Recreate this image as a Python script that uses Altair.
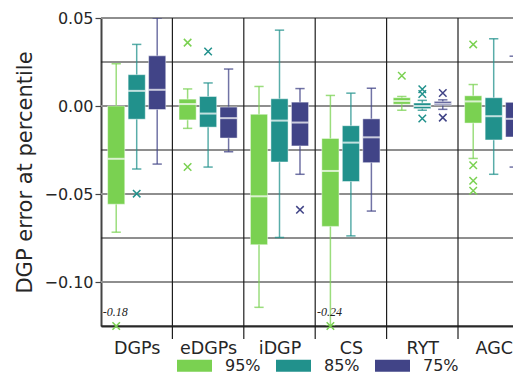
import altair as alt
import pandas as pd

categories = ["DGPs", "eDGPs", "iDGP", "CS", "RYT", "AGC"]
levels = ["95%", "85%", "75%"]
colors = ["#7ad151", "#21918c", "#414487"]

# box statistics, order: for each category -> 95%, 85%, 75%
whisk_lo = [-0.0717, -0.0358, -0.0330,
            -0.0127, -0.0347, -0.0260,
            -0.1144, -0.0747, -0.0388,
            -0.1300, -0.0738, -0.0597,
            -0.0024, -0.0024, -0.0019,
            -0.0298, -0.0388, -0.0347]
q1 = [-0.0558, -0.0075, -0.0020,
      -0.0079, -0.0120, -0.0182,
      -0.0788, -0.0318, -0.0227,
      -0.0684, -0.0429, -0.0322,
      0.0010, -0.0015, 0.0004,
      -0.0097, -0.0193, -0.0176]
median = [-0.0300, 0.0086, 0.0092,
          0.0011, -0.0043, -0.0069,
          -0.0513, -0.0083, -0.0094,
          -0.0369, -0.0208, -0.0178,
          0.0028, 0.0000, 0.0013,
          0.0026, -0.0058, -0.0073]
q3 = [0.0000, 0.0178, 0.0285,
      0.0039, 0.0054, -0.0006,
      -0.0047, 0.0041, 0.0022,
      -0.0184, -0.0112, -0.0073,
      0.0047, 0.0017, 0.0026,
      0.0058, 0.0047, 0.0021]
whisk_hi = [0.0240, 0.0350, 0.0520,
            0.0097, 0.0131, 0.0210,
            0.0111, 0.0431, 0.0099,
            0.0060, 0.0073, 0.0101,
            0.0054, 0.0032, 0.0035,
            0.0122, 0.0382, 0.0283]

# outliers: (category, level, value)
out_cat = ["DGPs", "DGPs", "eDGPs", "eDGPs", "eDGPs", "iDGP", "CS",
           "RYT", "RYT", "RYT", "RYT", "RYT", "RYT",
           "AGC", "AGC", "AGC", "AGC"]
out_lvl = ["95%", "85%", "95%", "95%", "85%", "75%", "95%",
           "95%", "85%", "85%", "85%", "75%", "75%",
           "95%", "95%", "95%", "95%"]
out_val = [-0.18, -0.0498, 0.0360, -0.0347, 0.0310, -0.0590, -0.24,
           0.0172, 0.0095, 0.0068, -0.0071, 0.0074, -0.0066,
           0.0350, -0.0337, -0.0425, -0.0482]

# annotations of off-scale outliers
ann_cat = ["DGPs", "CS"]
ann_text = ["-0.18", "-0.24"]

YMIN, YMAX = -0.125, 0.05
major_y = [0.05, 0.0, -0.05, -0.10]
minor_y = [0.025, -0.025, -0.075, -0.125]

CATW = 71.4
W, H = 412, 308
XMAX = W / CATW
OFF = 0.287
HALF = 0.12
CAP = 0.065

rows = []
for i, c in enumerate(categories):
    for j, l in enumerate(levels):
        k = i * 3 + j
        xc = i + 0.5 + (j - 1) * OFF
        rows.append(dict(cat=c, level=l, xc=xc, xl=xc - HALF, xr=xc + HALF,
                         cl=xc - CAP, cr=xc + CAP,
                         lo=whisk_lo[k], q1=q1[k], med=median[k], q3=q3[k], hi=whisk_hi[k]))
box = pd.DataFrame(rows)

orow = []
for c, l, v in zip(out_cat, out_lvl, out_val):
    i = categories.index(c); j = levels.index(l)
    orow.append(dict(cat=c, level=l, x=i + 0.5 + (j - 1) * OFF, v=v))
outs = pd.DataFrame(orow)

ann = pd.DataFrame([dict(x=categories.index(c) + 0.025, y=YMIN, t=t) for c, t in zip(ann_cat, ann_text)])

hgrid = pd.DataFrame([dict(y=v, kind="major") for v in major_y] + [dict(y=v, kind="minor") for v in minor_y])
vgrid = pd.DataFrame(dict(x=list(range(1, len(categories)))))

xscale = alt.Scale(domain=[0, XMAX], nice=False, zero=False)
yscale = alt.Scale(domain=[YMIN, YMAX], nice=False, zero=False, clamp=True)
cscale = alt.Scale(domain=levels, range=colors)

labexpr = "[" + ",".join("'%s'" % c for c in categories) + "][floor(datum.value)]"
xaxis = alt.Axis(values=[i + 0.5 for i in range(len(categories))], labelExpr=labexpr,
                 ticks=False, grid=False, domain=True, domainColor="#333", domainWidth=2,
                 labelFontSize=17.5, labelPadding=13, labelColor="#262626", title=None)
yaxis = alt.Axis(values=major_y, format=".2f", grid=False, ticks=True, tickSize=6, tickColor="#444",
                 tickWidth=1.2, domain=True, domainColor="#444", domainWidth=2,
                 labelFontSize=16, labelPadding=2, labelColor="#262626",
                 title="DGP error at percentile", titleFontSize=21, titleFontWeight="normal",
                 titleColor="#262626", titlePadding=8)

X = lambda f: alt.X(f, type="quantitative", scale=xscale, axis=xaxis)
Y = lambda f: alt.Y(f, type="quantitative", scale=yscale, axis=yaxis)

legend = alt.Legend(title=None, orient="none", direction="horizontal", legendX=76, legendY=330,
                    symbolType="M-1,-0.34L1,-0.34L1,0.34L-1,0.34Z", symbolSize=1225,
                    symbolStrokeWidth=0, symbolOpacity=1, labelFontSize=16, labelOffset=13,
                    columnPadding=15, labelColor="#262626", padding=0)

hg = alt.Chart(hgrid).mark_rule().encode(
    y=Y("y"),
    color=alt.Color("kind:N", scale=alt.Scale(domain=["major", "minor"], range=["#8e8e8e", "#1e1e1e"]), legend=None),
    strokeWidth=alt.StrokeWidth("kind:N", scale=alt.Scale(domain=["major", "minor"], range=[2, 1]), legend=None),
)
vg = alt.Chart(vgrid).mark_rule(color="#1e1e1e", strokeWidth=1.2).encode(
    x=X("x"), y=alt.value(0), y2=alt.value(H + 13))

whisk = alt.Chart(box).mark_rule(strokeWidth=1.5, opacity=0.75, clip=True).encode(
    x=X("xc"), y=Y("lo"), y2="hi",
    color=alt.Color("level:N", scale=cscale, legend=None))
caps_lo = alt.Chart(box).mark_rule(strokeWidth=1.5, opacity=0.75, clip=True).encode(
    x=X("cl"), x2="cr", y=Y("lo"), color=alt.Color("level:N", scale=cscale, legend=None))
caps_hi = alt.Chart(box).mark_rule(strokeWidth=1.5, opacity=0.75, clip=True).encode(
    x=X("cl"), x2="cr", y=Y("hi"), color=alt.Color("level:N", scale=cscale, legend=None))
boxes = alt.Chart(box).mark_rect(stroke="white", strokeOpacity=0.45, strokeWidth=1, clip=True).encode(
    x=X("xl"), x2="xr", y=Y("q1"), y2="q3",
    color=alt.Color("level:N", scale=cscale, legend=legend, sort=levels))
meds = alt.Chart(box).mark_rule(color="white", opacity=0.72, strokeWidth=2, clip=True).encode(
    x=X("xl"), x2="xr", y=Y("med"))
pts = alt.Chart(outs).mark_point(shape="M-1,-1L1,1M-1,1L1,-1", filled=False, size=56,
                                 strokeWidth=1.5, opacity=1).encode(
    x=X("x"), y=Y("v"), color=alt.Color("level:N", scale=cscale, legend=None))
txt = alt.Chart(ann).mark_text(align="left", baseline="alphabetic", dy=-10, font="Liberation Serif",
                               fontStyle="italic", fontSize=12, color="#222").encode(
    x=X("x"), y=Y("y"), text="t:N")

chart = alt.layer(hg, vg, whisk, caps_lo, caps_hi, boxes, meds, pts, txt).resolve_scale(
    color="independent", strokeWidth="independent").properties(
    width=W, height=H,
    autosize=alt.AutoSizeParams(type="none"),
    padding={"left": 93, "top": 10, "right": 0, "bottom": 51},
).configure_view(stroke=None).configure(font="DejaVu Sans")

chart.save("out.html", embed_options={"renderer": "svg", "actions": False})
